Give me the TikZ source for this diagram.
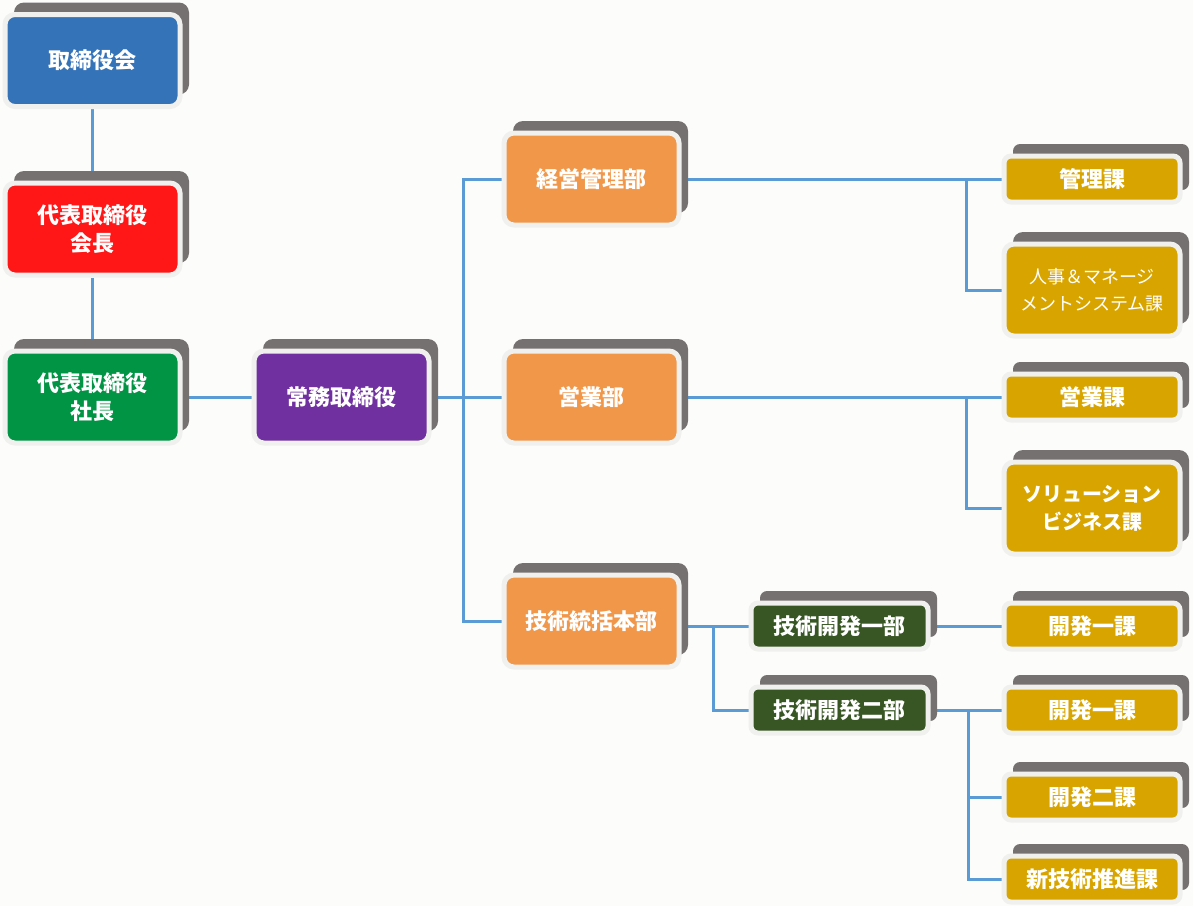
\documentclass[tikz,border=0pt]{standalone}
\usepackage{fontspec}
\setmainfont{Noto Sans CJK JP}
\usetikzlibrary{shadows,backgrounds}

\definecolor{azul}{HTML}{3573B9}
\definecolor{rojo}{HTML}{FF1616}
\definecolor{verde}{HTML}{009444}
\definecolor{morado}{HTML}{7030A0}
\definecolor{naranja}{HTML}{F0974A}
\definecolor{oro}{HTML}{D8A500}
\definecolor{verdeosc}{HTML}{375623}
\definecolor{sombra}{HTML}{767171}
\definecolor{borde}{HTML}{F0F1EF}
\definecolor{linea}{HTML}{5B9BD5}
\definecolor{fondo}{HTML}{FCFCFB}

\tikzset{
  caja/.style={draw=borde, line width=5pt, rounded corners=10pt, fill=#1,
    text=white, font=\bfseries\fontsize{22}{28}\selectfont, align=center,
    minimum width=175pt, minimum height=92pt, inner sep=0pt,
    general shadow={shadow xshift=9pt, shadow yshift=12pt, fill=sombra}},
  cajita/.style={caja=#1, minimum height=46pt, rounded corners=7pt},
  enlace/.style={draw=linea, line width=3pt}
}

\begin{document}
\begin{tikzpicture}[x=1pt, y=-1pt]
    \useasboundingbox (0,0) rectangle (1193,906);

    % Directivos
    \node[caja=azul] (board) at (92.5,60.5) {取締役会};
    \node[caja=rojo] (chairman) at (92.5,229) {代表取締役\\会長};
    \node[caja=verde] (president) at (92.5,397) {代表取締役\\社長};
    \node[caja=morado] (managing) at (341.5,397) {常務取締役};

    % Departamentos
    \node[caja=naranja] (mgmtdiv) at (591.5,179) {経営管理部};
    \node[caja=naranja] (salesdiv) at (591.5,397) {営業部};
    \node[caja=naranja] (techhq) at (591.5,621) {技術統括本部};
    \node[cajita=verdeosc, minimum width=177pt] (tech1) at (839.5,626) {技術開発一部};
    \node[cajita=verdeosc, minimum width=177pt] (tech2) at (839.5,710) {技術開発二部};

    % Secciones
    \node[cajita=oro, minimum width=176pt] (kanri) at (1092,179) {管理課};
    \node[caja=oro, minimum width=176pt, font=\fontsize{18}{27}\selectfont] (jinji) at (1092,290) {人事＆マネージ\\メントシステム課};
    \node[cajita=oro, minimum width=176pt] (eigyo) at (1092,397) {営業課};
    \node[caja=oro, minimum width=176pt, font=\bfseries\fontsize{20}{28}\selectfont] (solution) at (1092,508) {ソリューション\\ビジネス課};
    \node[cajita=oro, minimum width=176pt] (kaihatsuA) at (1092,626) {開発一課};
    \node[cajita=oro, minimum width=176pt] (kaihatsuB) at (1092,710) {開発一課};
    \node[cajita=oro, minimum width=176pt] (kaihatsu2) at (1092,797) {開発二課};
    \node[cajita=oro, minimum width=176pt] (shingijutsu) at (1092,879) {新技術推進課};

    % Lineas (detras de las cajas)
    \begin{scope}[on background layer]
        \fill[fondo] (0,0) rectangle (1193,906);
        \coordinate (bus1) at (463,0);
        \coordinate (br1) at (966,0);
        \coordinate (br2) at (713,0);
        \coordinate (br3) at (968,0);

        \draw[enlace] (board.south) -- (chairman.north);
        \draw[enlace] (chairman.south) -- (president.north);
        \draw[enlace] (president.east) -- (managing.west);
        \draw[enlace] (managing.east) -- (salesdiv.west);
        \draw[enlace] (mgmtdiv.west) -| (bus1 |- techhq.west) -- (techhq.west);

        \draw[enlace] (mgmtdiv.east) -- (kanri.west);
        \draw[enlace] (br1 |- kanri.west) |- (jinji.west);
        \draw[enlace] (salesdiv.east) -- (eigyo.west);
        \draw[enlace] (br1 |- eigyo.west) |- (solution.west);

        \draw[enlace] (tech1.west -| techhq.east) -- (tech1.west);
        \draw[enlace] (br2 |- tech1.west) |- (tech2.west);
        \draw[enlace] (tech1.east) -- (kaihatsuA.west);
        \draw[enlace] (tech2.east) -- (kaihatsuB.west);
        \draw[enlace] (br3 |- kaihatsuB.west) |- (shingijutsu.west);
        \draw[enlace] (br3 |- kaihatsu2.west) -- (kaihatsu2.west);
    \end{scope}
\end{tikzpicture}
\end{document}
